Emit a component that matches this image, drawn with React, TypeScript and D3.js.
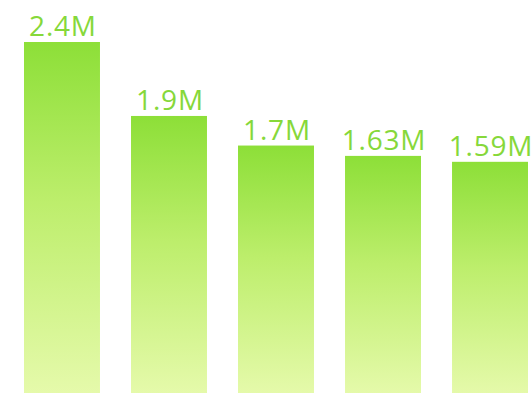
import React from "react";
import * as d3 from "d3";

const categories = ["A", "B", "C", "D", "E"];
const values = [2.4, 1.9, 1.7, 1.63, 1.59];
const labels = ["2.4M", "1.9M", "1.7M", "1.63M", "1.59M"];

const W = 532;
const H = 393;

export default function App() {
  const x = d3
    .scaleBand<string>()
    .domain(categories)
    .range([24, 528])
    .paddingInner(0.29)
    .paddingOuter(0);
  const y = d3.scaleLinear().domain([0, 2.4]).range([397, 42]);

  return (
    <svg
      width={W}
      height={H}
      style={{ position: "absolute", left: 0, top: 0, background: "#ffffff" }}
    >
      <defs>
        <linearGradient id="barGrad" x1="0" y1="0" x2="0" y2="1">
          <stop offset="0%" stopColor="#8ddf38" />
          <stop offset="45%" stopColor="#bdee6c" />
          <stop offset="100%" stopColor="#e6faac" />
        </linearGradient>
      </defs>
      {categories.map((c, i) => {
        const bx = x(c)!;
        const by = y(values[i]);
        return (
          <g key={c}>
            <rect
              x={bx}
              y={by}
              width={x.bandwidth()}
              height={y(0) - by}
              fill="url(#barGrad)"
            />
            <text
              x={bx + x.bandwidth() / 2 + 1}
              y={by - 6}
              textAnchor="middle"
              fontFamily="'Open Sans', sans-serif"
              fontWeight={500}
              fontSize={28}
              letterSpacing={0.8}
              fill="#86d83a"
            >
              {labels[i]}
            </text>
          </g>
        );
      })}
    </svg>
  );
}
